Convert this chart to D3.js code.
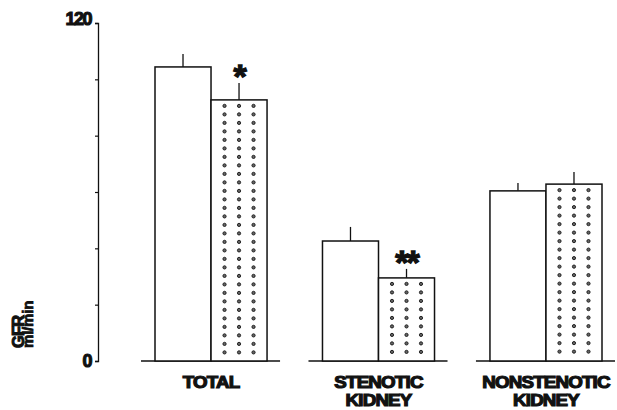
<!DOCTYPE html>
<html>
<head>
<meta charset="utf-8">
<script src="https://cdn.jsdelivr.net/npm/d3@7"></script>
<style>
  html, body { margin: 0; padding: 0; background: #fff; }
  svg { display: block; }
  text { font-family: "Liberation Sans", Arial, sans-serif; font-weight: bold; fill: #111; }
</style>
</head>
<body>
<svg id="chart" width="617" height="410"></svg>
<script>
// ---- data ----
const categories = ["TOTAL", "STENOTIC KIDNEY", "NONSTENOTIC KIDNEY"];
const categoryLines = [["TOTAL"], ["STENOTIC", "KIDNEY"], ["NONSTENOTIC", "KIDNEY"]];
const series = ["control", "treated"];
const controlValues = [104.4, 42.6, 60.4];
const controlErrors = [4.6, 5.0, 2.8];
const treatedValues = [92.7, 29.5, 62.8];
const treatedErrors = [6.0, 3.2, 4.3];
const significance = ["*", "**", ""];
const yTickValues = [0, 20, 40, 60, 80, 100, 120];
const yTickLabels = { 0: "0", 120: "120" };
const yLabelLines = ["GFR", "ml/min"];

const svg = d3.select("#chart");

const y = d3.scaleLinear().domain([0, 120]).range([361, 23]);
const x = d3.scaleBand().domain(categories).range([155, 602]).paddingInner(0.331).paddingOuter(0);
const xs = d3.scaleBand().domain(series).range([0, x.bandwidth()]).padding(0);

const rows = categories.map((c, i) => ({
  cat: c, i,
  bars: [
    { s: "control", v: controlValues[i], e: controlErrors[i] },
    { s: "treated", v: treatedValues[i], e: treatedErrors[i] }
  ]
}));

// y axis
const yAxis = d3.axisLeft(y)
  .tickValues(yTickValues)
  .tickSize(3)
  .tickSizeOuter(3)
  .tickPadding(4)
  .tickFormat(d => yTickLabels[d] || "");
const ga = svg.append("g").attr("transform", "translate(98,0)").call(yAxis);
ga.select(".domain").attr("stroke", "#111").attr("stroke-width", 1.3);
ga.selectAll(".tick line").attr("stroke", "#111").attr("stroke-width", 1.2);
ga.selectAll(".tick text")
  .attr("font-size", 18)
  .attr("font-family", "Liberation Sans, Arial, sans-serif")
  .attr("font-weight", "bold")
  .attr("fill", "#111")
  .attr("stroke", "#111").attr("stroke-width", 1.1)
  .attr("letter-spacing", -1.5);
ga.selectAll(".tick").filter(d => d === 120).select("text").attr("dy", "0.1em");

// y label
svg.append("text")
  .attr("transform", "translate(23.5,348) rotate(-90)")
  .attr("font-size", 16.5)
  .attr("stroke", "#111").attr("stroke-width", 1)
  .attr("letter-spacing", -0.8)
  .text(yLabelLines[0]);
svg.append("text")
  .attr("transform", "translate(33,348) rotate(-90)")
  .attr("font-size", 15)
  .attr("stroke", "#111").attr("stroke-width", 0.8)
  .attr("letter-spacing", -0.2)
  .text(yLabelLines[1]);

// groups
const g = svg.selectAll(".grp").data(rows).enter().append("g")
  .attr("class", "grp")
  .attr("transform", d => `translate(${x(d.cat)},0)`);

// baselines
g.append("line")
  .attr("x1", -14).attr("x2", x.bandwidth() + 13)
  .attr("y1", y(0)).attr("y2", y(0))
  .attr("stroke", "#111").attr("stroke-width", 1.5);

// error bars
g.selectAll(".err").data(d => d.bars).enter().append("line")
  .attr("x1", b => xs(b.s) + xs.bandwidth() / 2)
  .attr("x2", b => xs(b.s) + xs.bandwidth() / 2)
  .attr("y1", b => y(b.v))
  .attr("y2", b => y(b.v + b.e))
  .attr("stroke", "#111").attr("stroke-width", 1.3);

// bars
g.selectAll(".bar").data(d => d.bars).enter().append("rect")
  .attr("x", b => xs(b.s))
  .attr("y", b => y(b.v))
  .attr("width", xs.bandwidth())
  .attr("height", b => y(0) - y(b.v))
  .attr("fill", "#fff")
  .attr("stroke", "#111").attr("stroke-width", 1.5);

// dots in treated bars
g.each(function(d) {
  const b = d.bars[1];
  const cx0 = xs(b.s) + xs.bandwidth() / 2;
  const pts = [];
  for (let yy = y(b.v) + 6; yy < y(0) - 2; yy += 8.5) {
    for (const off of [-14.5, 0, 14.5]) pts.push([cx0 + off, yy]);
  }
  d3.select(this).selectAll(".dot").data(pts).enter().append("circle")
    .attr("cx", p => p[0]).attr("cy", p => p[1]).attr("r", 1.6)
    .attr("fill", "#666").attr("stroke", "#222").attr("stroke-width", 1);
});

// significance stars
g.append("text")
  .attr("x", d => xs("treated") + xs.bandwidth() / 2)
  .attr("y", d => y(d.bars[1].v + d.bars[1].e) + 5)
  .attr("text-anchor", "middle")
  .attr("font-size", 34)
  .attr("font-family", "DejaVu Sans, sans-serif")
  .attr("stroke", "#111").attr("stroke-width", 1.3)
  .attr("letter-spacing", -2)
  .text(d => significance[d.i]);

// category labels (slightly widened heavy type)
g.each(function(d) {
  const cx = x.bandwidth() / 2;
  const t = d3.select(this).append("text")
    .attr("text-anchor", "middle")
    .attr("font-size", 17)
    .attr("stroke", "#111").attr("stroke-width", 1.2)
    .attr("letter-spacing", -0.7)
    .attr("transform", `translate(${cx},0) scale(1.1,1)`);
  categoryLines[d.i].forEach((ln, k) => {
    t.append("tspan").attr("x", 0).attr("y", 388 + k * 18).text(ln);
  });
});
</script>
</body>
</html>
